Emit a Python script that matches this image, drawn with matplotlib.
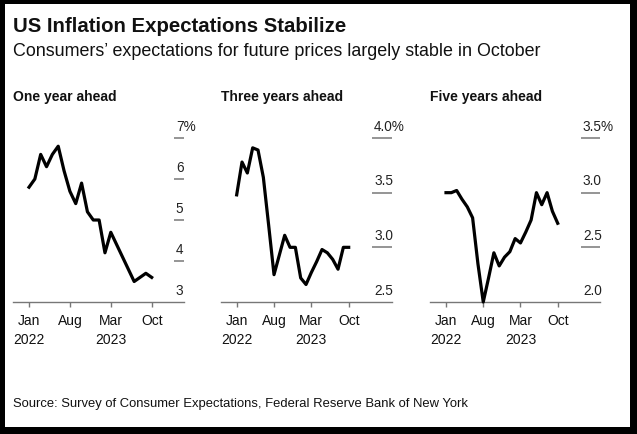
import matplotlib
matplotlib.use('Agg')
import matplotlib.pyplot as plt
from matplotlib.patches import Rectangle

plt.rcParams['font.family'] = ['Liberation Sans', 'DejaVu Sans']

# monthly readings, Jan 2022 .. Oct 2023
months = list(range(22))
tick_pos = [0, 7, 14, 21]
tick_labels = ['Jan\n2022', 'Aug', 'Mar\n2023', 'Oct']

one_year = [5.8, 6.0, 6.6, 6.3, 6.6, 6.8, 6.2, 5.7, 5.4, 5.9, 5.2, 5.0,
            5.0, 4.2, 4.7, 4.4, 4.1, 3.8, 3.5, 3.6, 3.7, 3.6]
three_year = [3.48, 3.78, 3.68, 3.91, 3.89, 3.64, 3.2, 2.75, 2.93, 3.11, 3.0, 3.0,
              2.72, 2.66, 2.77, 2.87, 2.98, 2.95, 2.89, 2.8, 3.0, 3.0]
five_year = [3.0, 3.0, 3.02, 2.94, 2.87, 2.77, 2.35, 2.0, 2.22, 2.45, 2.33, 2.41,
             2.46, 2.58, 2.54, 2.64, 2.75, 3.0, 2.89, 3.0, 2.83, 2.72]

yticks_1 = [3, 4, 5, 6, 7]
ylabels_1 = ['3', '4', '5', '6', '7%']
yticks_3 = [2.5, 3.0, 3.5, 4.0]
ylabels_3 = ['2.5', '3.0', '3.5', '4.0%']
yticks_5 = [2.0, 2.5, 3.0, 3.5]
ylabels_5 = ['2.0', '2.5', '3.0', '3.5%']

titles = ['One year ahead', 'Three years ahead', 'Five years ahead']

W, H = 637, 435
fig = plt.figure(figsize=(W / 100, H / 100), dpi=100, facecolor='black')
fig.patches.append(Rectangle((5 / W, 7 / H), 625 / W, 423 / H, transform=fig.transFigure,
                             facecolor='white', edgecolor='none', zorder=-1))

fig.text(13 / W, 1 - 31.7 / H, 'US Inflation Expectations Stabilize',
         fontsize=14.7, fontweight='bold', va='baseline', color='#111')
fig.text(13 / W, 1 - 56 / H,
         'Consumers\u2019 expectations for future prices largely stable in October',
         fontsize=12.9, va='baseline', color='#111')
fig.text(13 / W, 1 - 406.7 / H,
         'Source: Survey of Consumer Expectations, Federal Reserve Bank of New York',
         fontsize=9.4, va='baseline', color='#111')

# x0, x1 in pixels, xlim in months, fraction where the y dashes start
panels = [
    (13, 184, (-2.74, 26.53), one_year, yticks_1, ylabels_1, 0.943),
    (221, 392, (-2.94, 29.12), three_year, yticks_3, ylabels_3, 0.885),
    (430, 600, (-3.01, 28.95), five_year, yticks_5, ylabels_5, 0.89),
]

for (x0, x1, xlim, vals, yt, yl, dash0), title in zip(panels, titles):
    ax = fig.add_axes([x0 / W, 1 - 303 / H, (x1 - x0) / W, 164 / H])
    ax.set_facecolor('none')
    ax.plot(months, vals, color='black', lw=2.3, clip_on=False, zorder=3)
    ax.set_xlim(*xlim)
    ax.set_ylim(yt[0], yt[-1])
    for s in ['top', 'left', 'right']:
        ax.spines[s].set_visible(False)
    ax.spines['bottom'].set_color('#777')
    ax.spines['bottom'].set_linewidth(1.0)
    ax.set_yticks([])
    ax.set_xticks(tick_pos)
    ax.set_xticklabels(tick_labels, linespacing=1.4)
    ax.tick_params(axis='x', length=3.6, width=1, color='#777', labelsize=10,
                   pad=4.5, labelcolor='#111')
    tr = ax.get_yaxis_transform()
    for v, lab in zip(yt, yl):
        if v != yt[0]:
            ax.plot([dash0, 1.0], [v, v], transform=tr, color='#8c8c8c', lw=1.3,
                    clip_on=False, solid_capstyle='butt')
        ax.annotate(lab, xy=(dash0, v), xycoords=tr, xytext=(1.2, 6),
                    textcoords='offset points', ha='left', va='baseline',
                    fontsize=9.8, color='#222')
    fig.text(x0 / W, 1 - 101 / H, title, fontsize=10, fontweight='bold',
             va='baseline', color='#111')

fig.savefig('out.png', dpi=100, facecolor=fig.get_facecolor())
